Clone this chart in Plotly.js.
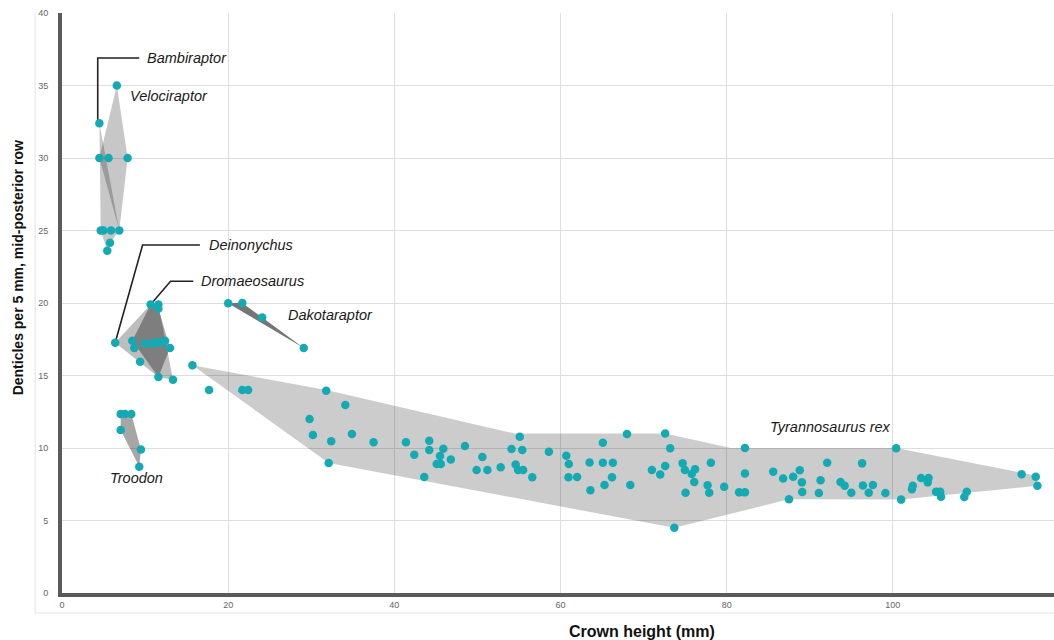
<!DOCTYPE html>
<html>
<head>
<meta charset="utf-8">
<script src="https://cdn.plot.ly/plotly-3.0.1.min.js"></script>
<style>
html,body{margin:0;padding:0;background:#fff;overflow:hidden;}
#chart{width:1062px;height:640px;}
</style>
</head>
<body>
<div id="chart"></div>
<script>
// ---- Data (crown height mm, denticles per 5 mm) ----
const bambiraptorX = [4.5, 4.5, 5.6, 4.66, 4.97, 5.9, 5.45, 5.78];
const bambiraptorY = [32.4, 30, 30, 25, 25, 25, 23.6, 24.16];
const velociraptorX = [6.6, 7.9, 6.9];
const velociraptorY = [35, 30, 25];
const deinonychusX = [6.4, 8.7, 9.4, 13.36];
const deinonychusY = [17.26, 16.9, 15.95, 14.7];
const dromaeosaurusX = [10.67, 11.6, 11.6, 8.46, 10.0, 10.9, 11.35, 11.9, 12.4, 13.0, 11.6];
const dromaeosaurusY = [19.9, 19.9, 19.6, 17.4, 17.2, 17.2, 17.3, 17.26, 17.4, 16.9, 14.9];
const dakotaraptorX = [20.0, 21.7, 24.1, 29.1];
const dakotaraptorY = [19.98, 20.0, 19.0, 16.9];
const troodonX = [7.06, 7.58, 8.34, 7.06, 9.5, 9.3];
const troodonY = [12.35, 12.35, 12.35, 11.24, 9.9, 8.7];
const trexX = [15.7, 17.7, 21.7, 22.4, 31.8, 34.1, 29.8, 30.2, 32.4, 34.9, 37.5, 32.1, 41.4, 44.2, 44.2, 45.9, 42.4, 45.5, 46.8, 45.1, 45.6, 43.6, 48.5, 50.6, 49.9, 51.2, 52.8, 55.1, 54.1, 55.4, 54.6, 54.9, 55.5, 56.6, 58.6, 60.7, 61.0, 60.96, 62.0, 63.6, 63.5, 65.1, 65.1, 66.3, 66.2, 65.3, 68.4, 68.0, 72.6, 73.2, 71.0, 72.0, 72.6, 74.7, 74.97, 76.2, 75.8, 76.1, 78.1, 75.05, 77.7, 77.9, 79.7, 81.5, 82.2, 82.2, 82.2, 85.6, 73.7, 86.8, 88.0, 88.8, 87.5, 89.05, 89.1, 91.3, 91.1, 92.1, 93.7, 94.2, 95.0, 96.3, 96.4, 97.6, 97.1, 99.1, 100.4, 101.0, 102.4, 102.3, 103.4, 104.3, 104.2, 105.2, 105.7, 105.8, 108.6, 108.9, 115.5, 117.2, 117.4];
const trexY = [15.7, 14.0, 14.0, 14.0, 13.95, 12.97, 12.0, 10.9, 10.46, 10.97, 10.4, 8.97, 10.4, 10.5, 9.86, 9.95, 9.54, 9.45, 9.2, 8.9, 8.9, 8.0, 10.14, 9.38, 8.48, 8.48, 8.67, 10.78, 9.93, 9.86, 8.87, 8.48, 8.48, 7.98, 9.75, 9.47, 8.9, 7.98, 8.0, 7.08, 9.0, 10.37, 8.99, 8.99, 7.98, 7.45, 7.45, 10.97, 11.0, 9.98, 8.48, 8.18, 8.76, 8.94, 8.48, 8.53, 8.2, 7.66, 8.99, 6.92, 7.43, 6.92, 7.33, 6.94, 6.94, 8.25, 10.0, 8.37, 4.5, 7.9, 8.02, 8.46, 6.46, 7.63, 6.97, 7.77, 6.9, 8.99, 7.66, 7.4, 6.92, 8.94, 7.42, 7.45, 6.92, 6.9, 9.98, 6.44, 7.4, 7.15, 7.93, 7.93, 7.63, 6.99, 6.99, 6.64, 6.62, 6.99, 8.19, 8.02, 7.4];

// ---- Range outlines ----
const velociraptorHullX = [6.6, 7.9, 6.9, 4.5];
const velociraptorHullY = [35, 30, 25, 30];
const bambiraptorHullX = [4.5, 6.9, 5.78, 5.45, 4.66, 4.5];
const bambiraptorHullY = [32.4, 25, 24.16, 23.6, 25, 30];
const deinonychusHullX = [6.4, 10.67, 11.6, 13.36, 11.6];
const deinonychusHullY = [17.26, 19.9, 19.9, 14.7, 14.9];
const dromaeosaurusHullX = [10.67, 11.6, 11.6, 13.0, 11.6, 8.46];
const dromaeosaurusHullY = [19.9, 19.9, 19.6, 16.9, 14.9, 17.4];
const dakotaraptorHullX = [20.0, 21.7, 24.1, 29.1];
const dakotaraptorHullY = [19.98, 20.0, 19.0, 16.9];
const troodonHullX = [7.06, 8.34, 9.5, 9.3, 7.06];
const troodonHullY = [12.35, 12.35, 9.9, 8.7, 11.24];
const trexHullX = [15.7, 31.8, 54.5, 72.6, 80.5, 100.4, 117.2, 117.4, 101.0, 87.5, 73.7, 32.1];
const trexHullY = [15.7, 14.0, 11.0, 11.0, 10.0, 10.0, 8.1, 7.4, 6.44, 6.46, 4.5, 8.97];

// ---- Labels ----
const labelNames = ['Bambiraptor', 'Velociraptor', 'Deinonychus', 'Dromaeosaurus', 'Dakotaraptor', 'Troodon', 'Tyrannosaurus rex'];
const labelX = [10.0, 8.0, 17.5, 16.5, 27.0, 5.5, 85.0];
const labelY = [36.9, 34.3, 24.0, 21.5, 19.2, 7.9, 11.45];

const xTicks = [0, 20, 40, 60, 80, 100, 120];
const yTicks = [0, 5, 10, 15, 20, 25, 30, 35, 40];
const xTitle = 'Crown height (mm)';
const yTitle = 'Denticles per 5 mm, mid-posterior row';

const teal = '#14aab4';
function hull(x, y, alpha) {
  return {x: x.concat([x[0]]), y: y.concat([y[0]]), type: 'scatter', mode: 'lines',
    fill: 'toself', fillcolor: 'rgba(0,0,0,' + alpha + ')', line: {width: 0},
    hoverinfo: 'skip', showlegend: false};
}
function pts(x, y) {
  return {x: x, y: y, type: 'scatter', mode: 'markers',
    marker: {color: teal, size: 8.5, line: {width: 0}}, showlegend: false};
}
function leader(px, py, lx, ly, elbowX, endX) {
  return {x: [px, elbowX, endX], y: [py, ly, ly], type: 'scatter', mode: 'lines',
    line: {color: '#222', width: 1.6}, hoverinfo: 'skip', showlegend: false};
}

const traces = [
  hull(trexHullX, trexHullY, 0.2),
  hull(velociraptorHullX, velociraptorHullY, 0.22),
  hull(bambiraptorHullX, bambiraptorHullY, 0.22),
  hull(deinonychusHullX, deinonychusHullY, 0.26),
  hull(dromaeosaurusHullX, dromaeosaurusHullY, 0.33),
  hull(dakotaraptorHullX, dakotaraptorHullY, 0.54),
  hull(troodonHullX, troodonHullY, 0.35),
  // leader lines: from labelled point to label
  leader(bambiraptorX[0] - 0.2, bambiraptorY[0] + 0.2, labelX[0], labelY[0], bambiraptorX[0] - 0.2, labelX[0] - 0.7),
  leader(deinonychusX[0], deinonychusY[0], labelX[2], labelY[2], deinonychusX[0] + 3.3, labelX[2] - 0.9),
  leader(dromaeosaurusX[0], dromaeosaurusY[0], labelX[3], labelY[3], dromaeosaurusX[0] + 2.4, labelX[3] - 0.7),
  pts(bambiraptorX, bambiraptorY),
  pts(velociraptorX, velociraptorY),
  pts(deinonychusX, deinonychusY),
  pts(dromaeosaurusX, dromaeosaurusY),
  pts(dakotaraptorX, dakotaraptorY),
  pts(troodonX, troodonY),
  pts(trexX, trexY)
];

const annotations = labelNames.map((t, i) => ({
  x: labelX[i], y: labelY[i], xref: 'x', yref: 'y', text: '<i>' + t + '</i>',
  showarrow: false, xanchor: 'left', yanchor: 'middle',
  font: {family: 'Liberation Sans, Arial, sans-serif', size: 14.5, color: '#1a1a1a'}
}));
annotations.push({
  xref: 'paper', yref: 'paper', x: 0.582, y: -0.066, text: '<b>' + xTitle + '</b>',
  showarrow: false, xanchor: 'center', yanchor: 'middle',
  font: {family: 'Liberation Sans, Arial, sans-serif', size: 16, color: '#111'}
});
annotations.push({
  xref: 'paper', yref: 'paper', x: -0.044, y: 0.56, text: '<b>' + yTitle + '</b>',
  showarrow: false, xanchor: 'center', yanchor: 'middle', textangle: -90,
  font: {family: 'Liberation Sans, Arial, sans-serif', size: 14, color: '#111'}
});

const layout = {
  width: 1062, height: 640,
  margin: {l: 62, r: 3, t: 13, b: 47},
  paper_bgcolor: '#fff', plot_bgcolor: '#fff',
  font: {family: 'Liberation Sans, Arial, sans-serif'},
  xaxis: {
    range: [0, 120], tickvals: xTicks, ticktext: xTicks.map(String),
    showgrid: true, gridcolor: '#dedede', gridwidth: 1, zeroline: false,
    showline: true, linecolor: '#5a5a5a', linewidth: 4,
    ticks: '', tickfont: {size: 9, color: '#666'},
    fixedrange: true
  },
  yaxis: {
    range: [0, 40], tickvals: yTicks, ticktext: yTicks.map(String),
    showgrid: true, gridcolor: '#dedede', gridwidth: 1, zeroline: false,
    showline: true, linecolor: '#5a5a5a', linewidth: 4,
    ticks: 'outside', ticklen: 8, tickcolor: 'rgba(0,0,0,0)',
    tickfont: {size: 9, color: '#666'},
    fixedrange: true
  },
  annotations: annotations,
  shapes: [
    {type: 'line', xref: 'paper', yref: 'paper', x0: -0.027, x1: -0.027, y0: 1.0, y1: -0.0345, line: {color: '#e4e4e4', width: 1}},
    {type: 'line', xref: 'paper', yref: 'paper', x0: -0.027, x1: 1.0, y0: -0.0345, y1: -0.0345, line: {color: '#e4e4e4', width: 1}}
  ],
  showlegend: false
};

Plotly.newPlot('chart', traces, layout, {displayModeBar: false, staticPlot: true});
</script>
</body>
</html>
